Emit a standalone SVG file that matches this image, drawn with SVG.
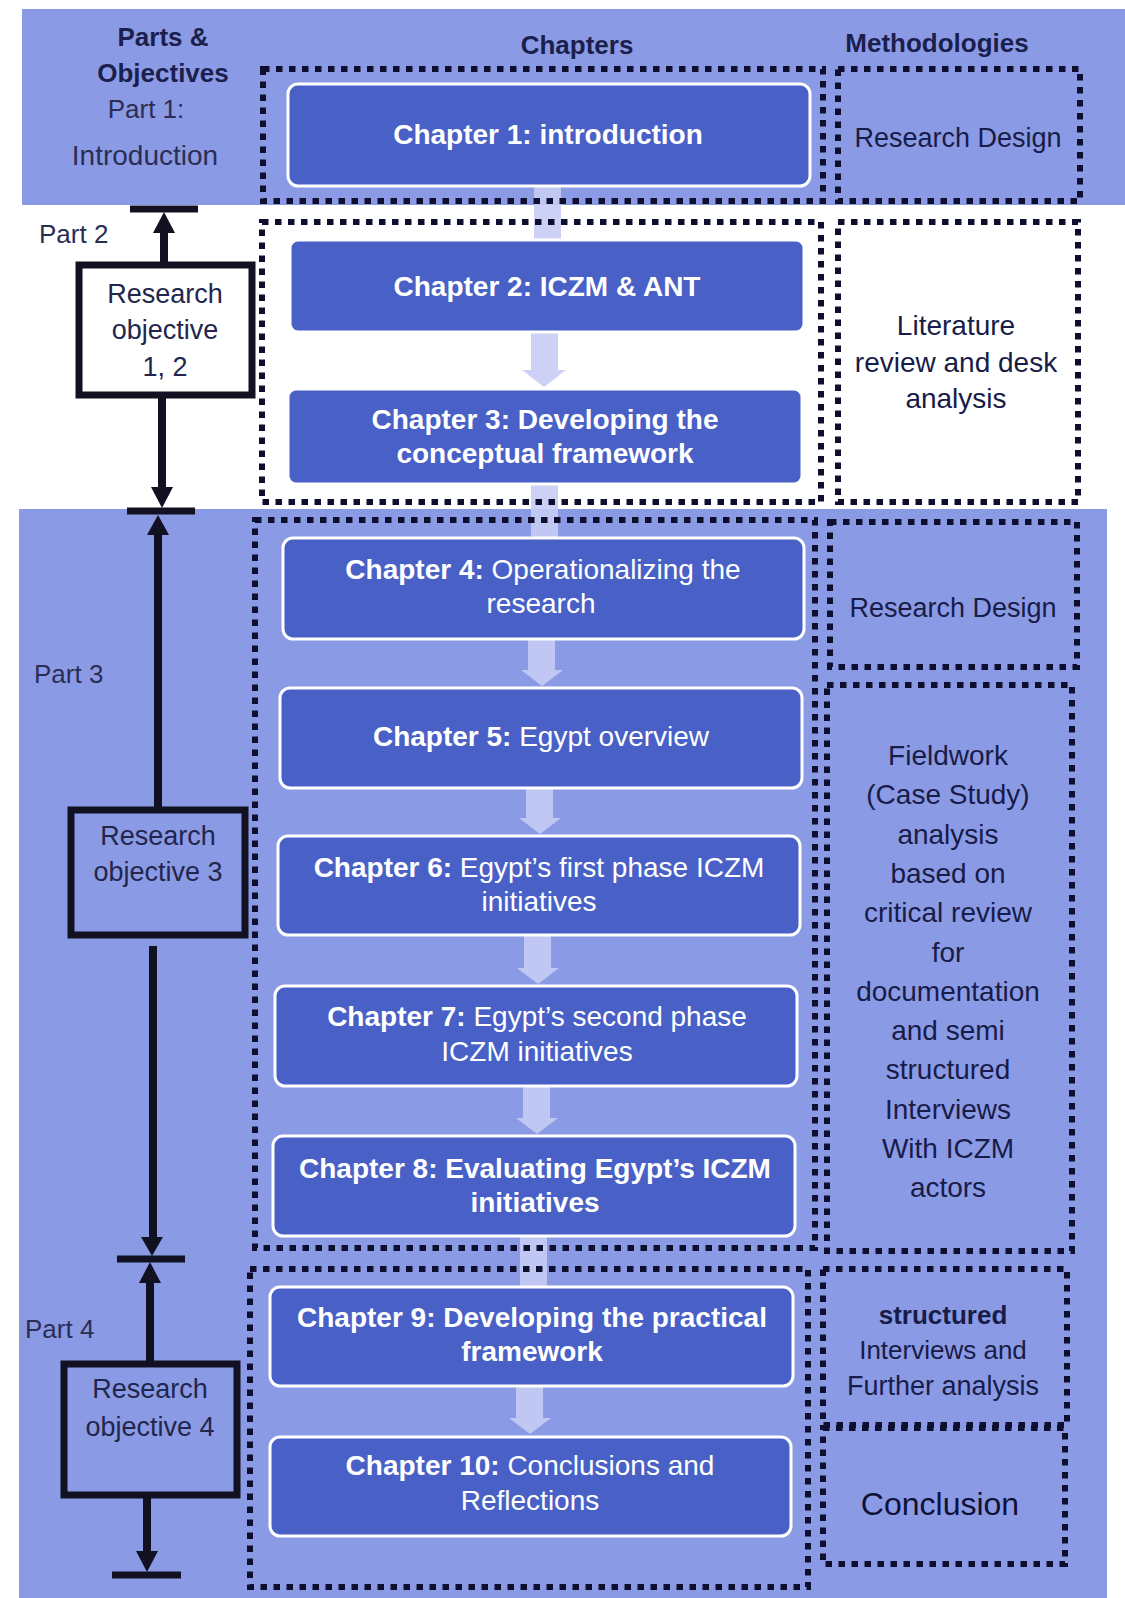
<svg xmlns="http://www.w3.org/2000/svg" width="1125" height="1598" viewBox="0 0 1125 1598">
<defs>
<style>
.bg{fill:#8b9ae5}
.ch{fill:#4961c6;stroke:#ffffff;stroke-width:3}
.dot{fill:none;stroke:#0e0f2e;stroke-width:6;stroke-dasharray:6.5 6.5}
.obj{stroke:#111122;stroke-width:7}
.ln{stroke:#111122;stroke-width:8;fill:none}
.bar{stroke:#111122;stroke-width:7}
.ah{fill:#111122}
.blk{fill:#c6ccf4;opacity:0.9}
text{font-family:"Liberation Sans",Arial,sans-serif}
.ct{font-size:28px;fill:#ffffff;text-anchor:middle}
.b{font-weight:bold}
.mt{font-size:28px;fill:#181c48;text-anchor:middle}
.hd{font-size:26px;font-weight:bold;fill:#1b1f4d;text-anchor:middle}
.lb{font-size:26px;fill:#2a2e55}
.ot{font-size:27px;fill:#22264d;text-anchor:middle}
</style>
</defs>
<rect width="1125" height="1598" fill="#ffffff"/>
<rect class="bg" x="22" y="9" width="1103" height="196"/>
<rect class="bg" x="19" y="509" width="1088" height="1089"/>

<g id="headers">
<text class="hd" x="163" y="46">Parts &amp;</text>
<text class="hd" x="163" y="82">Objectives</text>
<text class="hd" x="577" y="54">Chapters</text>
<text class="hd" x="937" y="52">Methodologies</text>
</g>

<g id="part1">
<text class="lb" x="146" y="118" text-anchor="middle">Part 1:</text>
<text class="lb" x="145" y="165" text-anchor="middle" style="font-size:28px">Introduction</text>
</g>

<g id="connectors">
<rect class="blk" x="534" y="180" width="27" height="64"/>
<polygon class="blk" points="531,328 558,328 558,370 566,370 544,387 522,370 531,370"/>
<rect class="blk" x="531" y="478" width="27" height="66"/>
<polygon class="blk" points="528,632 555,632 555,670 563,670 542,686 521,670 528,670"/>
<polygon class="blk" points="526,782 553,782 553,818 561,818 540,834 519,818 526,818"/>
<polygon class="blk" points="524,930 551,930 551,968 559,968 538,984 517,968 524,968"/>
<polygon class="blk" points="523,1080 550,1080 550,1118 558,1118 537,1134 516,1118 523,1118"/>
<rect class="blk" x="520" y="1230" width="27" height="62"/>
<polygon class="blk" points="516,1380 543,1380 543,1418 551,1418 530,1434 509,1418 516,1418"/>

<line class="bar" x1="130" y1="209" x2="198" y2="209"/>
<line class="ln" x1="164" y1="265" x2="164" y2="228"/>
<polygon class="ah" points="164,212 175,233 153,233"/>
<line class="ln" x1="162" y1="395" x2="162" y2="492"/>
<polygon class="ah" points="162,508 173,487 151,487"/>
<line class="bar" x1="127" y1="511" x2="195" y2="511"/>
<line class="ln" x1="158" y1="810" x2="158" y2="530"/>
<polygon class="ah" points="158,515 169,535 147,535"/>
<line class="ln" x1="153" y1="946" x2="153" y2="1240"/>
<polygon class="ah" points="152,1256 163,1237 141,1237"/>
<line class="bar" x1="117" y1="1259" x2="185" y2="1259"/>
<line class="ln" x1="150" y1="1364" x2="150" y2="1279"/>
<polygon class="ah" points="150,1262 161,1283 139,1283"/>
<line class="ln" x1="147" y1="1496" x2="147" y2="1556"/>
<polygon class="ah" points="147,1572 158,1551 136,1551"/>
<line class="bar" x1="112" y1="1575" x2="181" y2="1575"/>
</g>

<g id="dotted-groups">
<rect class="dot" x="263" y="69" width="560" height="132"/>
<rect class="dot" x="262" y="222" width="559" height="280"/>
<rect class="dot" x="255" y="520" width="560" height="728"/>
<rect class="dot" x="250" y="1269" width="558" height="318"/>
</g>

<g id="ch1"><rect class="ch" x="288" y="84" width="522" height="102" rx="10"/>
<text class="ct b" x="548" y="144">Chapter 1: introduction</text></g>
<g id="ch2"><rect class="ch" x="290" y="240" width="514" height="92" rx="8"/>
<text class="ct b" x="547" y="296">Chapter 2: ICZM &amp; ANT</text></g>
<g id="ch3"><rect class="ch" x="288" y="389" width="514" height="95" rx="8"/>
<text class="ct b" x="545" y="429">Chapter 3: Developing the</text>
<text class="ct b" x="545" y="463">conceptual framework</text></g>
<g id="ch4"><rect class="ch" x="283" y="538" width="521" height="101" rx="10"/>
<text class="ct" x="543" y="579"><tspan class="b">Chapter 4:</tspan>  Operationalizing the</text>
<text class="ct" x="541" y="613">research</text></g>
<g id="ch5"><rect class="ch" x="280" y="688" width="522" height="100" rx="10"/>
<text class="ct" x="541" y="746"><tspan class="b">Chapter 5:</tspan>  Egypt overview</text></g>
<g id="ch6"><rect class="ch" x="278" y="836" width="522" height="99" rx="10"/>
<text class="ct" x="539" y="877"><tspan class="b">Chapter 6:</tspan> Egypt’s first phase ICZM</text>
<text class="ct" x="539" y="911">initiatives</text></g>
<g id="ch7"><rect class="ch" x="275" y="986" width="522" height="100" rx="10"/>
<text class="ct" x="537" y="1026"><tspan class="b">Chapter 7:</tspan> Egypt’s second phase</text>
<text class="ct" x="537" y="1061">ICZM initiatives</text></g>
<g id="ch8"><rect class="ch" x="273" y="1136" width="522" height="100" rx="10"/>
<text class="ct b" x="535" y="1178">Chapter 8: Evaluating  Egypt’s ICZM</text>
<text class="ct b" x="535" y="1212">initiatives</text></g>
<g id="ch9"><rect class="ch" x="270" y="1287" width="523" height="99" rx="10"/>
<text class="ct b" x="532" y="1327">Chapter 9: Developing the practical</text>
<text class="ct b" x="532" y="1361">framework</text></g>
<g id="ch10"><rect class="ch" x="270" y="1437" width="521" height="99" rx="10"/>
<text class="ct" x="530" y="1475"><tspan class="b">Chapter 10:</tspan> Conclusions and</text>
<text class="ct" x="530" y="1510">Reflections</text></g>

<g id="m1"><rect class="dot" x="838" y="69" width="242" height="132"/>
<text class="mt" x="958" y="147" style="font-size:27px">Research Design</text></g>
<g id="m2"><rect class="dot" x="838" y="222" width="240" height="280"/>
<text class="mt" x="956" y="335">Literature</text>
<text class="mt" x="956" y="372">review and desk</text>
<text class="mt" x="956" y="408">analysis</text></g>
<g id="m3"><rect class="dot" x="830" y="522" width="247" height="145"/>
<text class="mt" x="953" y="617" style="font-size:27px">Research Design</text></g>
<g id="m4"><rect class="dot" x="827" y="685" width="245" height="566"/>
<text class="mt" x="948" y="765">Fieldwork</text>
<text class="mt" x="948" y="804">(Case Study)</text>
<text class="mt" x="948" y="844">analysis</text>
<text class="mt" x="948" y="883">based on</text>
<text class="mt" x="948" y="922">critical review</text>
<text class="mt" x="948" y="962">for</text>
<text class="mt" x="948" y="1001">documentation</text>
<text class="mt" x="948" y="1040">and semi</text>
<text class="mt" x="948" y="1079">structured</text>
<text class="mt" x="948" y="1119">Interviews</text>
<text class="mt" x="948" y="1158">With ICZM</text>
<text class="mt" x="948" y="1197">actors</text></g>
<g id="m5"><rect class="dot" x="823" y="1269" width="244" height="156"/>
<text class="mt b" x="943" y="1324" style="font-size:26px">structured</text>
<text class="mt" x="943" y="1359" style="font-size:26px">Interviews and</text>
<text class="mt" x="943" y="1395" style="font-size:27px">Further analysis</text></g>
<g id="m6"><rect class="dot" x="823" y="1428" width="242" height="136"/>
<text class="mt" x="940" y="1515" style="font-size:32px;fill:#0f1236">Conclusion</text></g>

<g id="part2">
<text class="lb" x="39" y="243">Part 2</text>
<rect class="obj" x="79" y="265" width="173" height="130" fill="#ffffff"/>
<text class="ot" x="165" y="303">Research</text>
<text class="ot" x="165" y="339">objective</text>
<text class="ot" x="165" y="376">1, 2</text>
</g>
<g id="part3">
<text class="lb" x="34" y="683">Part 3</text>
<rect class="obj bg" x="71" y="810" width="174" height="125"/>
<text class="ot" x="158" y="845">Research</text>
<text class="ot" x="158" y="881">objective 3</text>
</g>
<g id="part4">
<text class="lb" x="25" y="1338">Part 4</text>
<rect class="obj bg" x="64" y="1364" width="173" height="131"/>
<text class="ot" x="150" y="1398">Research</text>
<text class="ot" x="150" y="1436">objective 4</text>
</g>
</svg>
